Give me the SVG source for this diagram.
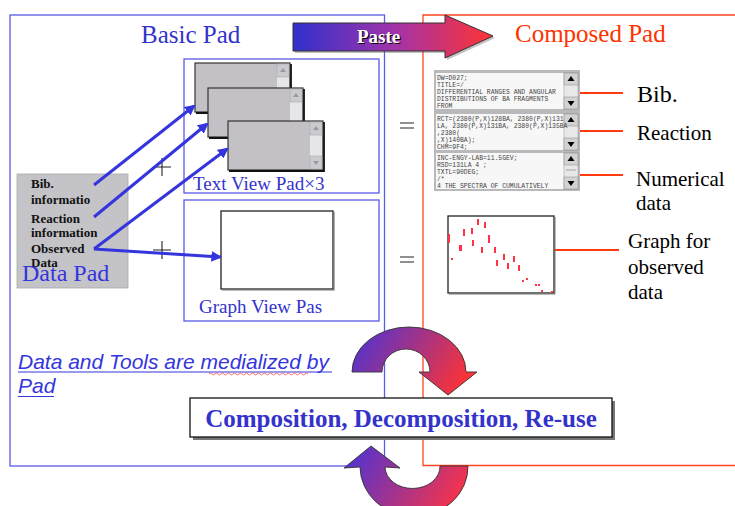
<svg xmlns="http://www.w3.org/2000/svg" width="735" height="506" viewBox="0 0 735 506">
<style>
.serif{font-family:"Liberation Serif","Times New Roman",serif}
.blueT{fill:#3333cc}
.lbl{font-family:"Liberation Serif","Times New Roman",serif;font-size:21px;fill:#000}
.dp{font-family:"Liberation Serif","Times New Roman",serif;font-size:13px;font-weight:bold;fill:#111}
.mono{font-family:"Liberation Mono","Courier New",monospace;font-size:6.4px;fill:#444}
.frameB{fill:none;stroke:#5a5ae6;stroke-width:1.3}
.frameR{fill:none;stroke:#ff4422;stroke-width:1.3}
.barrow{stroke:#3535dd;stroke-width:3;fill:none;marker-end:url(#ab)}
.rarrow{stroke:#ff3a10;stroke-width:2;fill:none;marker-end:url(#ar)}
.sym{stroke:#222;stroke-width:1.1;fill:none}
.dot{fill:#ff3344}
</style>
<defs>
<marker id="ab" viewBox="0 0 10 10" refX="8" refY="5" markerWidth="3.6" markerHeight="3.6" orient="auto" markerUnits="strokeWidth">
<path d="M0,0 L10,5 L0,10 z" fill="#3535dd"/>
</marker>
<marker id="ar" viewBox="0 0 10 10" refX="8" refY="5" markerWidth="3.5" markerHeight="3.5" orient="auto" markerUnits="strokeWidth">
<path d="M0,0 L10,5 L0,10 z" fill="#ff3a10"/>
</marker>
<linearGradient id="gPaste" x1="0" y1="0" x2="1" y2="0">
<stop offset="0" stop-color="#3030cc"/>
<stop offset="0.5" stop-color="#a033aa"/>
<stop offset="1" stop-color="#ff3333"/>
</linearGradient>
<linearGradient id="gTop" gradientUnits="userSpaceOnUse" x1="360" y1="335" x2="460" y2="395">
<stop offset="0" stop-color="#5533cc"/>
<stop offset="1" stop-color="#ff3333"/>
</linearGradient>
<linearGradient id="gBot" gradientUnits="userSpaceOnUse" x1="355" y1="450" x2="460" y2="510">
<stop offset="0" stop-color="#5533cc"/>
<stop offset="1" stop-color="#ff3344"/>
</linearGradient>
<symbol id="win" overflow="visible">
<rect x="0" y="0" width="95" height="49" fill="#c3c1c6" stroke="#333" stroke-width="1.2"/>
<path d="M96,1 V50 H1" stroke="#111" stroke-width="1.8" fill="none"/>
<rect x="82" y="1" width="12" height="47" fill="#e6e5ea"/>
<rect x="82" y="1" width="12" height="13" fill="#cbcacf" stroke="#a8a8ad" stroke-width="0.6"/>
<path d="M88,5 L85,9 L91,9 z" fill="#9a9aa0"/>
<rect x="82" y="35" width="12" height="13" fill="#cbcacf" stroke="#a8a8ad" stroke-width="0.6"/>
<path d="M88,44 L85,40 L91,40 z" fill="#9a9aa0"/>
</symbol>
<symbol id="sb" overflow="visible">
<rect x="0" y="0" width="14" height="36" fill="#e8e8e8" stroke="#999" stroke-width="0.5"/>
<rect x="0" y="0" width="14" height="12" fill="#d2d2d2" stroke="#888" stroke-width="0.5"/>
<path d="M7,3 L3.5,8 L10.5,8 z" fill="#000"/>
<rect x="0" y="24" width="14" height="12" fill="#d2d2d2" stroke="#888" stroke-width="0.5"/>
<path d="M7,33 L3.5,28 L10.5,28 z" fill="#000"/>
</symbol>
</defs>

<rect width="735" height="506" fill="#fff"/>

<g id="frames">
<rect class="frameB" x="10" y="15" width="374.5" height="451"/>
<path class="frameR" d="M740,15 H423 V465.5 H740"/>
</g>

<g id="basic-pad-title"><text class="serif blueT" x="141" y="43" font-size="25">Basic Pad</text></g>
<g id="composed-pad-title"><text class="serif" x="515" y="42" font-size="25" fill="#ff3300">Composed Pad</text></g>

<g id="paste">
<path d="M295,25 H447 V17 L495,38 L447,60 V53 H295 z" fill="#666" opacity="0.4"/>
<path d="M293,23 H445 V15 L493,36 L445,58 V51 H293 z" fill="url(#gPaste)" stroke="#333" stroke-width="1"/>
<text class="serif" x="358" y="44" font-size="19" font-weight="bold" fill="#000">Paste</text>
<text class="serif" x="357" y="43" font-size="19" font-weight="bold" fill="#fff">Paste</text>
</g>

<g id="text-view-pad">
<rect class="frameB" x="184" y="59" width="195" height="134"/>
<use href="#win" x="195" y="63"/>
<use href="#win" x="208" y="88"/>
<use href="#win" x="228" y="121"/>
<text class="serif blueT" x="193" y="190" font-size="19">Text View Pad×3</text>
</g>

<g id="graph-view-pad">
<rect class="frameB" x="184" y="200" width="195" height="121"/>
<rect x="221" y="211" width="112" height="78" fill="#fff" stroke="#222" stroke-width="1.3"/>
<path d="M222,290 H334 V212" stroke="#777" stroke-width="1.2" fill="none"/>
<text class="serif blueT" x="199" y="313" font-size="19">Graph View Pas</text>
</g>

<g id="data-pad">
<rect x="17" y="174" width="111" height="114" fill="#c4c3c8" stroke="#aaa" stroke-width="0.8"/>
<text class="dp" x="31" y="188">Bib.</text>
<text class="dp" x="31" y="204">informatio</text>
<text class="dp" x="31" y="223">Reaction</text>
<text class="dp" x="31" y="237">information</text>
<text class="dp" x="31" y="253">Observed</text>
<text class="dp" x="31" y="267">Data</text>
<text class="serif" x="22" y="281" font-size="24" fill="#3535dd">Data Pad</text>
</g>

<g id="operators">
<path class="sym" d="M153,167 H171 M162,158 V176"/>
<path class="sym" d="M153,250 H171 M162,241 V259"/>
<path class="sym" d="M400,123 H414 M400,128 H414"/>
<path class="sym" d="M400,257 H414 M400,262 H414"/>
</g>

<g id="connectors">
<line class="barrow" x1="94" y1="185" x2="194" y2="106"/>
<line class="barrow" x1="94" y1="217" x2="207" y2="124"/>
<line class="barrow" x1="94" y1="249" x2="227" y2="149"/>
<line class="barrow" x1="94" y1="249" x2="220" y2="257"/>
<line class="rarrow" x1="623" y1="93" x2="529" y2="93"/>
<line class="rarrow" x1="623" y1="131" x2="529" y2="131"/>
<line class="rarrow" x1="623" y1="175" x2="529" y2="175"/>
<line class="rarrow" x1="619" y1="250" x2="527" y2="250"/>
</g>

<g id="composed-text">
<rect x="434" y="70" width="146" height="121" fill="#b9b9bb"/>
<rect x="436" y="73" width="128" height="36" fill="#f7f7f7"/>
<rect x="436" y="114" width="128" height="36" fill="#f7f7f7"/>
<rect x="436" y="153" width="128" height="36" fill="#f7f7f7"/>
<use href="#sb" x="564" y="73"/>
<use href="#sb" x="564" y="114"/>
<use href="#sb" x="564" y="153"/>
<line x1="566" y1="170" x2="576" y2="170" stroke="#777" stroke-width="0.6"/>
<text class="mono" x="437" y="80">DW=D027;</text>
<text class="mono" x="437" y="87">TITLE=/</text>
<text class="mono" x="437" y="94">DIFFERENTIAL RANGES AND ANGULAR</text>
<text class="mono" x="437" y="101">DISTRIBUTIONS OF BA FRAGMENTS</text>
<text class="mono" x="437" y="108">FROM</text>
<text class="mono" x="437" y="121">RCT=(2380(P,X)128BA, 2380(P,X)131</text>
<text class="mono" x="437" y="128">LA, 2380(P,X)131BA, 2380(P,X)135BA</text>
<text class="mono" x="437" y="135">,2380(</text>
<text class="mono" x="437" y="142">,X)140BA);</text>
<text class="mono" x="437" y="149">CHM=9F4;</text>
<text class="mono" x="437" y="160">INC-ENGY-LAB=11.5GEV;</text>
<text class="mono" x="437" y="167">RSD=131LA 4 ;</text>
<text class="mono" x="437" y="174">TXTL=90DEG;</text>
<text class="mono" x="437" y="181">/*</text>
<text class="mono" x="437" y="188"> 4  THE SPECTRA OF CUMULATIVELY</text>
</g>

<g id="composed-graph">
<rect x="448" y="216" width="106" height="77" fill="#fff" stroke="#222" stroke-width="1.3"/>
<path d="M449,294 H555 V217" stroke="#777" stroke-width="1" fill="none"/>
<g class="dot">
<rect x="448" y="234" width="2" height="9"/><rect x="451" y="258" width="2" height="2"/>
<rect x="459" y="245" width="3" height="6"/><rect x="463" y="229" width="2" height="7"/>
<rect x="471" y="228" width="2" height="6"/><rect x="472" y="240" width="2" height="6"/>
<rect x="477" y="219" width="2" height="6"/><rect x="481" y="247" width="2" height="6"/>
<rect x="484" y="222" width="2" height="6"/><rect x="488" y="235" width="2" height="8"/>
<rect x="494" y="247" width="2" height="6"/><rect x="496" y="260" width="2" height="6"/>
<rect x="503" y="254" width="2" height="6"/><rect x="507" y="263" width="2" height="6"/>
<rect x="513" y="256" width="2" height="6"/><rect x="518" y="265" width="2" height="6"/>
<rect x="522" y="280" width="2" height="2"/><rect x="526" y="278" width="2" height="2"/>
<rect x="535" y="284" width="2" height="2"/><rect x="538" y="284" width="2" height="2"/>
<rect x="541" y="290" width="2" height="2"/><rect x="551" y="291" width="2" height="2"/>
</g>
</g>

<g id="labels">
<text class="serif" x="637" y="102" font-size="24" fill="#000">Bib.</text>
<text class="lbl" x="637" y="140">Reaction</text>
<text class="lbl" x="636" y="186">Numerical</text>
<text class="lbl" x="636" y="210">data</text>
<text class="lbl" x="628" y="248">Graph for</text>
<text class="lbl" x="628" y="274">observed</text>
<text class="lbl" x="628" y="299">data</text>
</g>

<g id="note">
<text x="18" y="369" font-family="'Liberation Sans',Arial,sans-serif" font-size="21" font-style="italic" fill="#3535dd">Data and Tools are medialized by</text>
<text x="18" y="393" font-family="'Liberation Sans',Arial,sans-serif" font-size="21" font-style="italic" fill="#3535dd">Pad</text>
<path d="M18,372 H332 M18,396.5 H54" stroke="#3535dd" stroke-width="1.2" fill="none"/>
<path d="M209,374 q1.5,-2 3,0 t3,0 t3,0 t3,0 t3,0 t3,0 t3,0 t3,0 t3,0 t3,0 t3,0 t3,0 t3,0 t3,0 t3,0 t3,0 t3,0 t3,0 t3,0 t3,0 t3,0 t3,0 t3,0 t3,0 t3,0 t3,0 t3,0 t3,0 t3,0 t3,0 t3,0 t3,0 t3,0" stroke="#ff3333" stroke-width="0.7" fill="none"/>
</g>

<g id="cycle-top">
<path d="M352,372 A57,45 0 0 1 466,372 L477,372 L448,395 L419,372 L430,372 A24,23 0 0 0 382,372 Z" fill="url(#gTop)" stroke="#333" stroke-width="0.9"/>
</g>

<g id="composition">
<rect x="193" y="401" width="422" height="39" fill="#777"/>
<rect x="190" y="398" width="422" height="39" fill="#fff" stroke="#111" stroke-width="1.3"/>
<text class="serif blueT" x="401" y="427" font-size="25" font-weight="bold" text-anchor="middle">Composition, Decomposition, Re-use</text>
</g>

<g id="cycle-bottom">
<path d="M468,466 A54,50 0 0 1 360,467 L344,468 L371,446 L400,468 L385,467 A27.5,22 0 0 0 440,466 Z" fill="url(#gBot)" stroke="#333" stroke-width="0.9"/>
</g>
</svg>
